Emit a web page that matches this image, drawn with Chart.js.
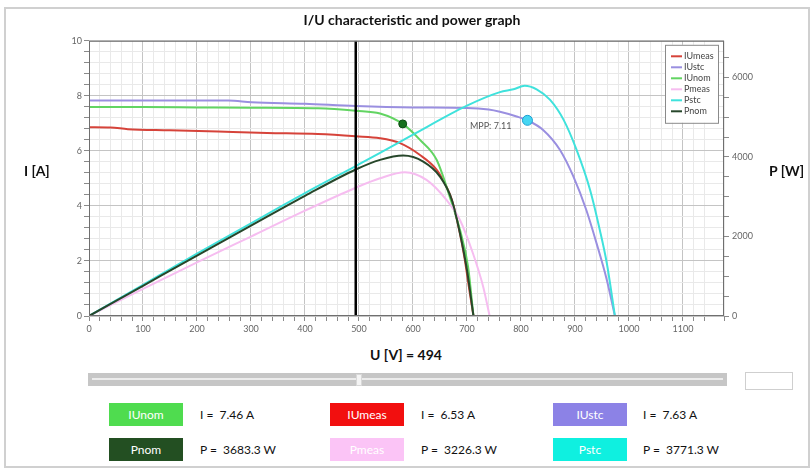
<!DOCTYPE html>
<html>
<head>
<meta charset="utf-8">
<script src="https://cdn.jsdelivr.net/npm/chart.js@4.4.0/dist/chart.umd.min.js"></script>
<style>
body { margin: 0; background: #fff; font-family: Lato, "Open Sans", sans-serif; }
#wrap { position: relative; width: 812px; height: 468px; overflow: hidden; }
#frame { position: absolute; left: 4px; top: 7px; width: 802px; height: 457px; border: 2px solid #d0d0d0; }
#chartCanvas { position: absolute; left: 0; top: 0; }
.axisTitle { position: absolute; font-weight: bold; font-size: 14px; color: #111; }
#uLabel { position: absolute; left: 0; width: 812px; top: 346px; text-align: center; font-weight: bold; font-size: 14px; color: #111; }
#track { position: absolute; left: 88px; top: 373px; width: 639px; height: 13px; background: #c6c6c6; }
#track .line { position: absolute; left: 4px; right: 4px; top: 5px; height: 2px; background: #ececec; }
#thumb { position: absolute; left: 356px; top: 374px; width: 6px; height: 12px; background: #f4f4f4; border: 1px solid #d8d8d8; box-sizing: border-box; }
#textBox { position: absolute; left: 745px; top: 372px; width: 46px; height: 16px; border: 1px solid #cfcfcf; background: #fff; }
.btn { position: absolute; width: 74px; height: 23px; line-height: 23px; text-align: center; font-size: 12px; color: #fff; }
.val { position: absolute; font-size: 12px; color: #111; line-height: 23px; white-space: pre; }
</style>
</head>
<body>
<div id="wrap">
  <div id="frame"></div>
  <canvas id="chartCanvas" width="812" height="345"></canvas>
  <div class="axisTitle" style="left:24px;top:162px">I [A]</div>
  <div class="axisTitle" style="left:769px;top:162px">P [W]</div>
  <div id="uLabel"></div>
  <div id="track"><div class="line"></div></div>
  <div id="thumb"></div>
  <div id="textBox"></div>
  <div id="readouts"></div>
</div>
<script>
// cursor voltage and readouts shown under the chart
const cursorU = 494
const readoutNames = ['IUnom', 'IUmeas', 'IUstc', 'Pnom', 'Pmeas', 'Pstc']
const readoutText = ['I =  7.46 A', 'I =  6.53 A', 'I =  7.63 A', 'P =  3683.3 W', 'P =  3226.3 W', 'P =  3771.3 W']

// I/U curves (U in V, I in A)
const uMeas = [0, 40, 72, 150, 239, 330, 424, 494, 539, 576, 613, 644, 662, 672, 687, 696, 704, 712]
const iMeas = [6.86, 6.85, 6.79, 6.75, 6.70, 6.65, 6.61, 6.53, 6.46, 6.28, 5.85, 5.31, 4.70, 4.22, 3.00, 2.04, 1.00, 0]
const uStc = [0, 100, 200, 258, 301, 400, 494, 600, 700, 740, 761, 792, 812, 841, 872, 897, 921, 940, 959, 974]
const iStc = [7.83, 7.83, 7.83, 7.83, 7.77, 7.71, 7.63, 7.58, 7.56, 7.50, 7.42, 7.25, 7.11, 6.76, 6.04, 5.07, 3.85, 2.64, 1.31, 0]
const uNom = [0, 100, 200, 300, 424, 494, 539, 581, 613, 644, 668, 687, 702, 712]
const iNom = [7.59, 7.59, 7.58, 7.57, 7.55, 7.46, 7.36, 6.98, 6.40, 5.67, 4.34, 3.13, 1.79, 0]

// power curves (U in V, P in W)
const uPmeas = [0, 100, 200, 300, 400, 494, 539, 585, 625, 662, 687, 711, 730, 742]
const pMeas = [0, 680, 1346, 1998, 2648, 3226, 3463, 3614, 3421, 2918, 2415, 1577, 737, 0]
const uPstc = [0, 100, 200, 300, 400, 494, 539, 600, 700, 761, 786, 807, 829, 854, 879, 903, 928, 946, 959, 974]
const pStc = [0, 783, 1566, 2331, 3090, 3771, 4100, 4560, 5290, 5630, 5700, 5790, 5700, 5434, 4931, 4176, 3170, 2164, 1326, 0]
const uPnom = [0, 100, 200, 300, 400, 494, 539, 582, 619, 650, 672, 687, 700, 712]
const pNom = [0, 759, 1518, 2271, 3020, 3683, 3925, 4033, 3882, 3505, 2918, 2080, 1157, 0]

// maximum power points [U, I]
const mppStc = [812, 7.11]
const mppNom = [581, 6.98]

// right axis ticks (W): labelled every 2000, tick marks every 500
const pTicks = [0, 500, 1000, 1500, 2000, 2500, 3000, 3500, 4000, 4500, 5000, 5500, 6000, 6500]

const pts = (xs, ys) => xs.map((x, i) => ({x: x, y: ys[i]}))

function curve(label, xs, ys, color, axis, order) {
    return {
        label: label, data: pts(xs, ys), yAxisID: axis, order: order,
        borderColor: color, backgroundColor: color, borderWidth: 2,
        pointRadius: 0, cubicInterpolationMode: 'monotone', inLegend: true
    }
}

const datasets = [
    curve('IUmeas', uMeas, iMeas, '#d6433a', 'y', 6),
    curve('IUstc', uStc, iStc, '#9a8fe0', 'y', 5),
    curve('IUnom', uNom, iNom, '#62d462', 'y', 4),
    curve('Pmeas', uPmeas, pMeas, '#f6bdf0', 'y2', 3),
    curve('Pstc', uPstc, pStc, '#3fe2dc', 'y2', 2),
    curve('Pnom', uPnom, pNom, '#27472b', 'y2', 1),
    { label: 'cursor', data: pts([cursorU, cursorU], [0, 10]), yAxisID: 'y', order: 0,
      borderColor: '#000', borderWidth: 2.5, pointRadius: 0 },
    { label: 'mppStc', data: pts([mppStc[0]], [mppStc[1]]), yAxisID: 'y', order: 0, showLine: false,
      pointRadius: 5, pointBackgroundColor: '#45d6f2', pointBorderColor: '#1c9fd0', pointBorderWidth: 1 },
    { label: 'mppNom', data: pts([mppNom[0]], [mppNom[1]]), yAxisID: 'y', order: 0, showLine: false,
      pointRadius: 4, pointBackgroundColor: '#16701c', pointBorderColor: '#0d4d12', pointBorderWidth: 1 }
]

const isStep = (v, step) => Math.abs(v - Math.round(v / step) * step) < 1e-6
const gridColor = step => ctx => ctx.tick && isStep(ctx.tick.value, step) ? '#c4c4c4' : '#e9e9e9'
const tickFont = {family: 'Lato', size: 9}

const overlay = {
    id: 'overlay',
    afterDraw(chart) {
        const {ctx, chartArea: a, scales} = chart
        ctx.save()
        ctx.strokeStyle = '#6f6f6f'
        ctx.lineWidth = 1
        ctx.strokeRect(a.left + 0.5, a.top + 0.5, a.right - a.left - 1, a.bottom - a.top - 1)

        // MPP label next to the STC marker
        const px = scales.x.getPixelForValue(mppStc[0])
        const py = scales.y.getPixelForValue(mppStc[1])
        ctx.font = '9px Lato'
        ctx.fillStyle = '#555'
        ctx.textAlign = 'right'
        ctx.textBaseline = 'middle'
        ctx.fillText('MPP: ' + mppStc[1].toFixed(2), px - 16, py + 6)

        // legend box inside the plot, top right
        const items = chart.data.datasets.filter(d => d.inLegend)
        const bw = 53, bh = 78, bx = a.right - 6 - bw, by = a.top + 4
        ctx.fillStyle = '#fff'
        ctx.fillRect(bx, by, bw, bh)
        ctx.strokeStyle = '#8a8a8a'
        ctx.strokeRect(bx + 0.5, by + 0.5, bw, bh)
        ctx.textAlign = 'left'
        items.forEach((d, i) => {
            const y = by + 11.5 + i * 11
            ctx.strokeStyle = d.borderColor
            ctx.lineWidth = 2
            ctx.beginPath()
            ctx.moveTo(bx + 6, y)
            ctx.lineTo(bx + 17, y)
            ctx.stroke()
            ctx.fillStyle = '#444'
            ctx.fillText(d.label, bx + 19, y)
        })
        ctx.restore()
    }
}

chart = new Chart(document.getElementById('chartCanvas'), {
    type: 'line',
    data: { datasets: datasets },
    options: {
        responsive: false,
        animation: false,
        devicePixelRatio: 1,
        layout: { padding: { left: 60, right: 48, bottom: 5, top: 0 } },
        plugins: {
            legend: { display: false },
            tooltip: { enabled: false },
            title: {
                display: true, text: 'I/U characteristic and power graph', color: '#111',
                font: { family: 'Lato', size: 14, weight: 'bold' }, padding: { top: 12, bottom: 12 }
            }
        },
        scales: {
            x: {
                type: 'linear', min: 0, max: 1176,
                afterFit: s => { s.height = 24 },
                border: { display: false },
                grid: { color: gridColor(100), tickColor: '#8a8a8a', tickLength: 5 },
                ticks: { stepSize: 20, autoSkip: false, maxRotation: 0, padding: 3, color: '#666', font: tickFont,
                         callback: v => isStep(v, 100) ? v : '' }
            },
            y: {
                position: 'left', min: 0, max: 10,
                afterFit: s => { s.width = 29 },
                border: { display: false },
                grid: { color: gridColor(2), tickColor: '#8a8a8a', tickLength: 5 },
                ticks: { stepSize: 0.4, autoSkip: false, padding: 2, color: '#666', font: tickFont,
                         callback: v => isStep(v, 2) ? Math.round(v) : '' }
            },
            y2: {
                type: 'linear', position: 'right', min: 0, max: 6920,
                afterFit: s => { s.width = 40 },
                afterBuildTicks: s => { s.ticks = pTicks.map(v => ({value: v})) },
                border: { display: false },
                grid: { drawOnChartArea: false, tickColor: '#8a8a8a', tickLength: 5 },
                ticks: { autoSkip: false, padding: 3, color: '#666', font: tickFont,
                         callback: v => isStep(v, 2000) ? v : '' }
            }
        }
    },
    plugins: [overlay]
})

// readouts below the slider
document.getElementById('uLabel').textContent = 'U [V] = ' + cursorU
const btnColors = ['#4fdc4f', '#f20f0f', '#8c82e6', '#234f22', '#fbc4f6', '#0ff0e0']
const colX = [109, 330, 553]
const txtX = [200, 421, 643]
const rowY = [403, 438]
const readouts = document.getElementById('readouts')
readoutNames.map((name, i) => {
    const col = i % 3, row = Math.floor(i / 3)
    const b = document.createElement('div')
    b.className = 'btn'
    b.style.left = colX[col] + 'px'
    b.style.top = rowY[row] + 'px'
    b.style.background = btnColors[i]
    b.textContent = name
    readouts.appendChild(b)
    const t = document.createElement('div')
    t.className = 'val'
    t.style.left = txtX[col] + 'px'
    t.style.top = rowY[row] + 'px'
    t.textContent = readoutText[i]
    readouts.appendChild(t)
})
</script>
</body>
</html>
